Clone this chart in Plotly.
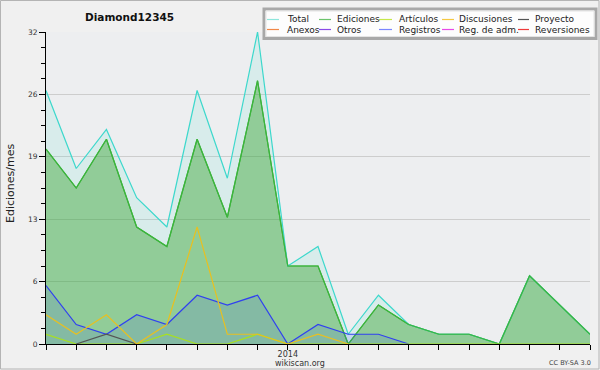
import plotly.graph_objects as go

# ---- data ----
months = ["2013-05", "2013-06", "2013-07", "2013-08", "2013-09", "2013-10", "2013-11", "2013-12",
          "2014-01", "2014-02", "2014-03", "2014-04", "2014-05", "2014-06", "2014-07", "2014-08",
          "2014-09", "2014-10", "2014-11"]
total = [26, 18, 22, 15, 12, 26, 17, 32, 8, 10, 1, 5, 2, 1, 1, 0, 7, 4, 1]
ediciones = [20, 16, 21, 12, 10, 21, 13, 27, 8, 8, 0, 4, 2, 1, 1, 0, 7, 4, 1]
articulos = [1, 0, 0, 0, 1, 0, 0, 1, 0, 0, 0, 0, 0, 0, 0, 0, 0, 0, 0]
discusiones = [3, 1, 3, 0, 2, 12, 1, 1, 0, 1, 0, None, None, None, None, None, None, None, None]
proyecto = [None, 0, 1, 0, None, None, None, None, None, None, None, None, None, None, None, None, None, None, None]
registros = [6, 2, 1, 3, 2, 5, 4, 5, 0, 2, 1, 1, 0, None, None, None, None, None, None]
y_ticks = [0, 6.4, 12.8, 19.2, 25.6, 32]
y_ticklabels = ["0", "6", "13", "19", "26", "32"]
legend_names = [["Total", "Ediciones", "Artículos", "Discusiones", "Proyecto"],
                ["Anexos", "Otros", "Registros", "Reg. de adm.", "Reversiones"]]
legend_colors = [["#8ee6dc", "#6cc46c", "#c6e84a", "#f5c842", "#555555"],
                 ["#f08848", "#8a4ae8", "#7a86ff", "#e84ae8", "#ee3a3a"]]

x = list(range(len(months)))
x_ticktext = [m[:4] if m.endswith("-01") else "" for m in months]

W, H = 600, 370
L, R, T, B = 46, 10, 32, 26
PW, PH = W - L - R, H - T - B


def px(xp):
    return (xp - L) / PW


def py(yp):
    return (H - B - yp) / PH


fig = go.Figure()
fig.add_trace(go.Scatter(x=x, y=ediciones, mode="lines", fill="tozeroy",
                         fillcolor="rgba(53,170,64,0.5)", line=dict(color="#3cb43c", width=1.2)))
fig.add_trace(go.Scatter(x=x, y=total, mode="lines", fill="tonexty",
                         fillcolor="rgba(64,224,208,0.12)", line=dict(color="#3dd8cc", width=1.2)))
fig.add_trace(go.Scatter(x=x, y=ediciones, mode="lines", line=dict(color="#3cb43c", width=1.2)))
fig.add_trace(go.Scatter(x=x, y=registros, mode="lines", fill="tozeroy",
                         fillcolor="rgba(40,60,255,0.12)", line=dict(color="#3040f0", width=1.2)))
fig.add_trace(go.Scatter(x=x, y=articulos, mode="lines", line=dict(color="#a8e020", width=1.2)))
fig.add_trace(go.Scatter(x=x, y=proyecto, mode="lines", line=dict(color="#555555", width=1.2)))
fig.add_trace(go.Scatter(x=x, y=discusiones, mode="lines", line=dict(color="#e8c020", width=1.2)))

shapes = []
annotations = []
# outer frame
shapes.append(dict(type="rect", xref="paper", yref="paper", x0=px(0.5), x1=px(599), y0=py(369), y1=py(0.5),
                   line=dict(color="#b4b4b4", width=1), fillcolor="rgba(0,0,0,0)", layer="below"))
# legend box
shapes.append(dict(type="rect", xref="paper", yref="paper", x0=px(264), x1=px(596), y0=py(38.5), y1=py(9),
                   line=dict(color="#a8a8a8", width=3), fillcolor="#fdfdfd"))
shapes.append(dict(type="rect", xref="paper", yref="paper", x0=px(266), x1=px(594), y0=py(36.5), y1=py(11),
                   line=dict(color="#e4e4e4", width=1), fillcolor="#fdfdfd"))
col_line = [(267, 279), (319, 331), (379, 392), (442, 454), (518, 529)]
col_text = [284.5, 334.5, 396.5, 456.5, 532.5]
row_y = [19.5, 29.5]
for r in range(2):
    for c in range(5):
        shapes.append(dict(type="line", xref="paper", yref="paper", x0=px(col_line[c][0]), x1=px(col_line[c][1]),
                           y0=py(row_y[r]), y1=py(row_y[r]), line=dict(color=legend_colors[r][c], width=1.2)))
        annotations.append(dict(xref="paper", yref="paper", x=px(col_text[c]), y=py(row_y[r]), xanchor="left",
                                yanchor="middle", text=legend_names[r][c], showarrow=False,
                                font=dict(family="DejaVu Sans", size=9, color="#222")))

annotations.append(dict(xref="paper", yref="paper", x=px(129), y=py(17), xanchor="center", yanchor="middle",
                        text="<b>Diamond12345</b>", showarrow=False,
                        font=dict(family="DejaVu Sans", size=10.5, color="#111")))
annotations.append(dict(xref="paper", yref="paper", x=px(300), y=py(363.5), xanchor="center", yanchor="middle",
                        text="wikiscan.org", showarrow=False,
                        font=dict(family="DejaVu Sans", size=8, color="#333")))
annotations.append(dict(xref="paper", yref="paper", x=px(570), y=py(362.5), xanchor="center", yanchor="middle",
                        text="CC BY-SA 3.0", showarrow=False,
                        font=dict(family="DejaVu Sans", size=6.5, color="#444")))
annotations.append(dict(xref="paper", yref="paper", x=px(10), y=py(184), xanchor="center", yanchor="middle",
                        text="Ediciones/mes", textangle=-90, showarrow=False,
                        font=dict(family="DejaVu Sans", size=11, color="#222")))

fig.update_layout(
    width=W, height=H, margin=dict(l=L, r=R, t=T, b=B),
    paper_bgcolor="#f0f0f0", plot_bgcolor="#edeef0",
    showlegend=False, shapes=shapes, annotations=annotations,
    xaxis=dict(range=[0, 18], tickvals=x, ticktext=x_ticktext, showgrid=False, zeroline=False,
               showline=True, linecolor="#000", linewidth=1, ticks="outside", ticklen=5, tickcolor="#000",
               ticklabelstandoff=-3,
               tickfont=dict(family="DejaVu Sans", size=8, color="#333")),
    yaxis=dict(range=[0, 32], tickvals=y_ticks, ticktext=y_ticklabels, showgrid=True, gridcolor="#cdcdcd",
               zeroline=False, showline=True, linecolor="#000", linewidth=1, ticks="outside", ticklen=6,
               tickcolor="#000", tickfont=dict(family="DejaVu Sans", size=7.5, color="#333"),
               minor=dict(tickvals=[i * 1.6 for i in range(21)], ticks="outside", ticklen=4,
                          tickcolor="#000", showgrid=False)),
)

fig.write_html("out.html", config={"displayModeBar": False},
               post_script="document.body.style.margin='0';document.body.style.overflow='hidden';")
